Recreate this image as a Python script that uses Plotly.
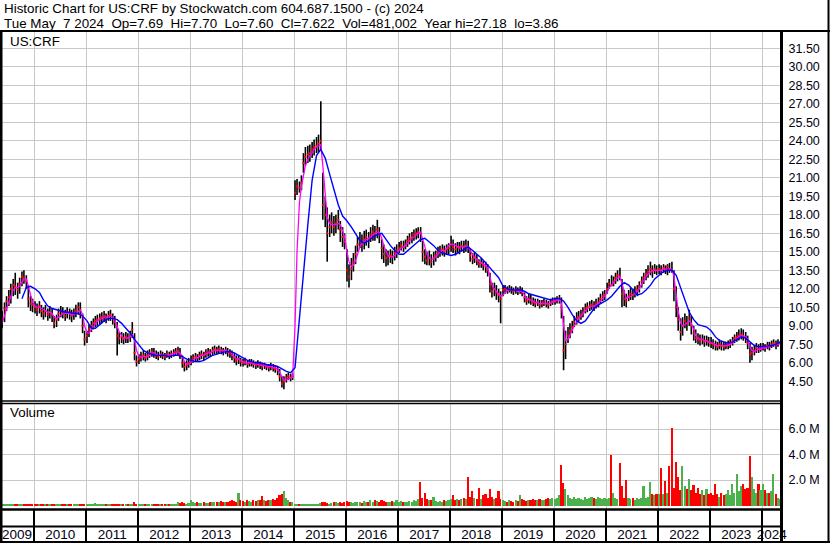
import pandas as pd
import plotly.graph_objects as go

# ---------------- data ----------------
TITLE_1 = "Historic Chart for US:CRF by Stockwatch.com 604.687.1500 - (c) 2024"
TITLE_2 = "Tue May  7 2024  Op=7.69  Hi=7.70  Lo=7.60  Cl=7.622  Vol=481,002  Year hi=27.18  lo=3.86"
SYMBOL = "US:CRF"

# semi-monthly bars, May 2009 .. May 2024
dates = pd.date_range("2009-05-01", periods=361, freq="SMS") + pd.Timedelta(days=5)

close = (
    [8.9,9.6,10.4,11.0,11.3,12.0,12.3,12.2,11.9,12.4,13.0,12.9,12.6,11.2,10.8,10.7]
    + [10.5,10.3,10.6,10.2,10.0,10.2,9.9,10.1,9.9,9.2,9.5,10.0,10.2,10.0,9.8,10.1,10.0,9.8,10.0,10.2,10.5,10.3,9.0,7.9]
    + [8.2,8.7,9.0,9.2,9.4,9.5,9.6,9.7,9.8,9.6,9.8,9.9,9.6,9.3,8.2,8.0,8.1,7.9,8.1,8.0,8.2,8.7,6.8,6.1]
    + [6.3,6.5,6.6,6.4,6.6,6.8,6.9,6.8,6.6,6.5,6.7,6.6,6.5,6.7,6.6,6.7,6.8,6.9,7.0,6.7,6.0,5.7,5.8,6.0]
    + [6.2,6.4,6.5,6.4,6.6,6.7,6.6,6.8,6.9,6.8,7.0,7.1,7.0,7.1,7.0,6.9,7.0,6.9,6.8,6.6,6.4,6.2,6.3,6.1]
    + [6.0,6.1,5.9,6.0,6.0,5.9,5.8,5.9,5.8,5.7,5.8,5.7,5.6,5.7,5.6,5.5,5.4,4.9,4.3,4.5,4.8,4.9,4.8,4.9]
    + [19.8,20.3,20.2,20.6,22.2,22.7,22.9,23.0,23.3,23.5,23.6,23.8,24.0,18.8,18.0,16.5,17.0,17.4,17.0,17.3,17.6,16.8,16.2,15.8]
    + [13.5,13.0,13.6,14.2,14.8,15.6,15.9,15.6,16.0,16.2,16.0,16.4,16.6,16.5,16.8,16.4,15.3,14.8,14.5,14.6,14.7,14.6,14.9,15.1]
    + [15.3,15.5,15.4,15.6,15.9,16.1,16.2,16.4,16.5,16.6,16.5,15.0,14.6,14.3,14.5,14.2,14.5,14.7,15.0,15.1,15.2,15.0,15.2,15.3]
    + [15.6,15.4,15.2,15.4,15.3,15.5,15.4,15.5,15.4,14.7,14.4,14.6,14.3,14.0,14.1,13.9,13.8,13.5,12.4,11.8,12.0,11.7,11.5,11.2]
    + [11.9,12.0,11.9,12.0,11.9,11.8,11.9,11.8,11.9,11.7,11.3,11.0,11.2,11.1,10.9,10.8,10.9,10.7,10.8,10.9,10.8,10.7,10.9,11.0]
    + [11.0,11.1,11.2,10.5,7.0,7.5,8.2,8.6,8.9,9.3,9.6,9.7,9.9,10.1,10.4,10.5,10.6,10.7,10.6,10.8,10.9,11.2,11.4,11.5]
    + [12.0,12.4,12.3,12.6,12.9,13.1,13.0,11.6,11.2,11.0,11.4,11.6,11.5,11.7,11.9,12.2,12.6,12.9,13.2,13.4,13.6,13.4,13.6,13.5]
    + [13.6,13.5,13.7,13.6,13.8,13.6,13.5,12.0,10.5,9.5,8.5,9.0,9.4,9.2,9.6,9.0,8.4,8.0,7.9,7.8,7.9,7.7,7.8,7.7]
    + [7.6,7.5,7.4,7.3,7.5,7.4,7.3,7.4,7.5,7.6,7.8,8.0,8.1,8.2,8.3,8.1,8.0,7.6,6.7,6.8,7.0,7.2,7.1,7.2]
    + [7.3,7.2,7.4,7.3,7.5,7.6,7.4,7.6,7.622]
)

high = (
    [9.7,10.2,10.9,11.4,11.9,12.4,12.8,13.3,12.5,12.9,13.4,13.5,13.1,12.3,11.4,11.2]
    + [11.0,10.8,11.0,10.7,10.5,10.7,10.4,10.6,10.4,9.8,9.9,10.4,10.6,10.5,10.3,10.5,10.4,10.3,10.4,10.7,10.9,10.9,10.0,8.6]
    + [8.6,9.1,9.4,9.6,9.8,9.9,10.0,10.1,10.2,10.0,10.2,10.3,10.0,9.8,9.3,8.5,8.5,8.4,8.5,8.4,8.6,9.3,8.4,6.6]
    + [6.7,6.9,7.0,6.8,7.0,7.1,7.2,7.2,7.0,6.9,7.0,6.9,6.8,7.0,6.9,7.0,7.1,7.2,7.3,7.2,6.6,6.1,6.2,6.4]
    + [6.6,6.7,6.8,6.7,6.9,7.0,6.9,7.1,7.2,7.1,7.3,7.4,7.3,7.4,7.3,7.2,7.3,7.2,7.1,7.0,6.8,6.6,6.6,6.4]
    + [6.3,6.4,6.2,6.3,6.3,6.2,6.1,6.2,6.1,6.0,6.0,5.9,5.9,6.0,5.9,5.8,5.7,5.5,4.9,4.9,5.1,5.2,5.1,5.2]
    + [20.8,20.9,20.7,21.2,23.0,23.5,23.6,23.7,23.9,24.1,24.3,24.5,27.2,21.4,19.5,18.6,18.0,18.2,17.9,18.0,18.4,17.5,17.0,16.5]
    + [15.2,14.0,14.5,14.9,15.5,16.2,16.6,16.4,16.7,16.8,16.6,17.0,17.2,17.1,17.6,17.0,16.0,15.6,15.2,15.1,15.2,15.1,15.4,15.6]
    + [15.8,15.9,15.9,16.0,16.3,16.5,16.6,16.8,16.9,17.0,17.0,15.9,15.2,15.0,15.1,14.8,15.0,15.1,15.4,15.5,15.6,15.5,15.6,15.7]
    + [16.3,16.0,15.7,15.8,15.8,15.9,15.9,16.0,15.9,15.3,14.9,15.0,14.8,14.4,14.5,14.3,14.2,14.0,13.3,12.5,12.5,12.3,12.0,11.8]
    + [12.3,12.3,12.2,12.3,12.2,12.1,12.2,12.1,12.2,12.1,11.7,11.4,11.6,11.5,11.3,11.2,11.2,11.1,11.1,11.2,11.1,11.0,11.2,11.3]
    + [11.3,11.4,11.5,11.3,9.8,8.6,8.9,9.2,9.4,9.8,10.1,10.2,10.3,10.5,10.8,10.9,11.0,11.1,11.0,11.2,11.3,11.6,11.8,11.9]
    + [12.5,12.8,13.1,13.0,13.3,13.5,13.7,12.8,11.9,11.6,11.9,12.1,12.0,12.2,12.3,12.6,13.0,13.3,13.6,13.9,14.2,13.9,14.0,13.9]
    + [14.0,13.9,14.0,13.9,14.0,14.1,14.2,13.5,12.2,10.5,9.6,9.7,10.0,9.8,10.3,9.8,9.0,8.7,8.4,8.3,8.3,8.2,8.2,8.1]
    + [8.1,7.9,7.8,7.7,7.9,7.8,7.7,7.7,7.8,7.9,8.1,8.3,8.5,8.7,8.8,8.7,8.5,8.2,7.6,7.3,7.4,7.6,7.5,7.6]
    + [7.6,7.5,7.7,7.7,7.8,7.9,7.8,7.9,7.70]
)

low = (
    [8.3,8.8,9.3,10.2,10.6,10.8,11.4,11.5,11.2,11.6,12.2,12.4,12.0,10.5,10.2,10.1]
    + [10.0,9.8,10.0,9.7,9.5,9.7,9.4,9.6,9.3,8.8,8.9,9.4,9.7,9.6,9.4,9.6,9.5,9.3,9.5,9.7,9.9,9.6,8.4,7.4]
    + [7.6,8.1,8.5,8.7,8.9,9.0,9.1,9.2,9.3,9.2,9.4,9.4,9.1,8.8,6.6,7.5,7.6,7.5,7.6,7.6,7.7,8.0,6.2,5.7]
    + [5.9,6.1,6.2,6.1,6.2,6.4,6.5,6.4,6.3,6.2,6.4,6.3,6.2,6.4,6.3,6.4,6.5,6.6,6.6,6.3,5.6,5.3,5.4,5.6]
    + [5.8,6.0,6.1,6.1,6.2,6.3,6.2,6.4,6.5,6.5,6.6,6.7,6.7,6.8,6.7,6.6,6.7,6.5,6.4,6.2,6.0,5.8,5.9,5.7]
    + [5.7,5.8,5.6,5.7,5.7,5.6,5.5,5.6,5.5,5.4,5.5,5.4,5.3,5.4,5.3,5.2,5.0,4.5,4.0,3.86,4.4,4.6,4.5,4.6]
    + [19.2,19.6,19.8,20.0,21.4,22.0,22.2,22.3,22.6,22.8,23.0,23.1,23.3,17.6,17.0,14.2,16.2,16.5,16.3,16.5,16.8,15.8,15.4,15.2]
    + [12.6,12.1,12.7,13.4,14.0,15.0,15.3,15.0,15.2,15.5,15.3,15.8,15.9,15.9,16.1,15.7,14.4,14.1,13.8,13.9,14.1,14.0,14.3,14.5]
    + [14.9,15.1,15.0,15.2,15.4,15.6,15.7,15.9,16.0,16.1,15.8,14.2,14.0,13.9,13.9,13.7,13.9,14.2,14.5,14.6,14.7,14.6,14.8,14.8]
    + [15.0,14.9,14.7,14.9,14.8,15.0,14.9,15.0,14.9,14.2,14.0,14.1,13.9,13.7,13.7,13.5,13.3,13.0,11.7,11.3,11.4,11.1,10.9,9.2]
    + [11.4,11.6,11.6,11.7,11.6,11.5,11.6,11.5,11.6,11.4,10.9,10.7,10.8,10.7,10.6,10.5,10.6,10.4,10.5,10.6,10.5,10.4,10.6,10.7]
    + [10.7,10.8,10.8,9.6,5.4,6.3,7.6,8.0,8.4,8.9,9.1,9.3,9.5,9.7,10.0,10.1,10.2,10.3,10.2,10.4,10.5,10.8,11.0,11.1]
    + [11.6,12.0,12.2,12.2,12.4,12.6,12.7,10.5,10.6,10.5,11.0,11.1,11.1,11.3,11.4,11.7,12.1,12.4,12.7,12.9,13.1,12.9,13.2,13.1]
    + [13.2,13.1,13.3,13.2,13.1,13.3,13.3,11.0,9.7,8.6,7.8,8.2,8.8,8.6,9.0,8.3,7.8,7.6,7.5,7.4,7.5,7.3,7.4,7.3]
    + [7.2,7.1,7.0,7.0,7.1,7.0,7.0,7.1,7.1,7.2,7.4,7.6,7.7,7.8,7.9,7.8,7.6,7.1,6.0,6.2,6.6,6.8,6.8,6.9]
    + [7.0,6.9,7.1,7.0,7.2,7.3,7.1,7.3,7.60]
)

# short moving average (magenta), same dates as the bars
ma_short = (
    [8.8,9.2,9.8,10.4,10.9,11.4,11.9,12.1,12.1,12.2,12.5,12.8,12.8,12.2,11.5,10.9]
    + [10.6,10.5,10.5,10.4,10.3,10.2,10.1,10.1,10.0,9.7,9.6,9.7,9.9,10.0,10.0,10.0,10.0,9.9,9.9,10.0,10.2,10.3,9.9,9.0]
    + [8.4,8.4,8.7,8.9,9.2,9.4,9.5,9.6,9.7,9.7,9.7,9.8,9.7,9.5,9.0,8.5,8.2,8.0,8.0,8.0,8.1,8.3,7.8,7.0]
    + [6.5,6.4,6.5,6.5,6.5,6.6,6.8,6.8,6.7,6.6,6.6,6.6,6.6,6.6,6.6,6.7,6.7,6.8,6.9,6.8,6.5,6.1,5.9,5.9]
    + [6.0,6.2,6.4,6.4,6.5,6.6,6.6,6.7,6.8,6.8,6.9,7.0,7.0,7.0,7.0,7.0,7.0,6.9,6.9,6.7,6.5,6.3,6.3,6.2]
    + [6.1,6.0,6.0,6.0,6.0,5.9,5.9,5.9,5.8,5.8,5.8,5.7,5.7,5.7,5.6,5.6,5.5,5.2,4.8,4.6,4.6,4.7,4.8,4.8]
    + [9.0,15.0,19.0,20.3,21.2,22.0,22.5,22.8,23.0,23.3,23.5,23.6,23.7,22.0,19.5,17.8,17.3,17.2,17.2,17.2,17.3,17.2,16.7,16.2]
    + [15.0,14.2,13.8,13.9,14.3,14.9,15.4,15.7,15.8,16.0,16.1,16.2,16.4,16.5,16.6,16.6,16.1,15.5,15.0,14.7,14.6,14.6,14.7,14.9]
    + [15.1,15.3,15.4,15.5,15.7,15.9,16.1,16.2,16.4,16.5,16.6,16.1,15.4,14.8,14.5,14.4,14.4,14.6,14.8,15.0,15.1,15.1,15.3,15.5]
    + [15.6,15.6,15.5,15.4,15.4,15.4,15.4,15.5,15.4,15.1,14.7,14.5,14.4,14.2,14.1,14.0,13.9,13.7,13.0,12.3,12.0,11.8,11.6,11.4]
    + [11.5,11.7,11.9,11.9,11.9,11.9,11.9,11.8,11.8,11.8,11.5,11.2,11.1,11.1,11.0,10.9,10.9,10.8,10.8,10.8,10.8,10.8,10.8,10.9]
    + [11.0,11.1,11.1,10.8,9.0,7.8,7.9,8.3,8.7,9.0,9.3,9.6,9.8,10.0,10.2,10.4,10.5,10.6,10.6,10.7,10.8,11.0,11.2,11.4]
    + [11.7,12.1,12.3,12.5,12.7,12.9,13.0,12.4,11.6,11.2,11.3,11.4,11.5,11.6,11.8,12.0,12.4,12.7,13.0,13.2,13.4,13.5,13.5,13.5]
    + [13.5,13.5,13.6,13.6,13.6,13.6,13.6,13.0,11.5,10.2,9.2,9.0,9.1,9.2,9.4,9.2,8.7,8.2,8.0,7.9,7.9,7.8,7.8,7.7]
    + [7.6,7.6,7.5,7.4,7.4,7.4,7.4,7.4,7.4,7.5,7.6,7.8,8.0,8.1,8.2,8.2,8.1,7.9,7.3,7.0,6.9,7.0,7.1,7.1]
    + [7.2,7.2,7.3,7.3,7.4,7.5,7.5,7.5,7.6]
)

# long moving average (blue), monthly points
ma_long = (
    [None,None,None,None,None,11.2,12.1,12.2]
    + [12.0,11.7,11.1,10.6,10.4,10.3,10.2,10.1,10.1,10.0,10.0,9.8]
    + [9.4,8.8,8.8,9.1,9.4,9.6,9.6,9.5,9.2,8.8,8.4,7.9]
    + [7.4,7.0,6.8,6.7,6.6,6.6,6.6,6.5,6.6,6.6,6.5,6.3]
    + [6.2,6.1,6.1,6.2,6.4,6.6,6.7,6.8,6.9,6.9,6.8,6.6]
    + [6.4,6.2,6.1,6.0,6.0,5.9,5.8,5.8,5.7,5.5,5.3,5.2]
    + [5.6,9.6,13.5,17.2,20.8,22.8,23.3,22.6,21.3,20.0,18.8,17.9]
    + [17.5,17.0,16.5,15.9,15.7,15.9,16.2,16.4,16.5,16.0,15.5,15.1]
    + [14.8,14.8,15.1,15.4,15.7,16.0,16.1,15.8,15.5,15.1,14.9,14.8]
    + [14.7,14.8,15.0,15.2,15.4,15.1,14.8,14.5,14.1,13.7,13.3,12.9]
    + [12.2,12.0,11.9,11.9,11.9,11.8,11.6,11.5,11.4,11.3,11.2,11.1]
    + [11.2,11.2,11.0,10.5,9.9,9.4,9.2,9.4,9.9,10.4,10.7,10.9]
    + [11.1,11.4,11.8,12.2,12.5,12.3,11.9,11.5,11.6,11.9,12.3,12.8]
    + [13.1,13.4,13.5,13.5,13.1,12.1,11.0,10.1,9.5,9.1,9.0,8.9]
    + [8.6,8.1,7.8,7.7,7.6,7.7,7.9,8.1,8.0,7.7,7.4,7.3]
    + [7.3,7.35,7.4,7.5,7.7]
)

# volume, millions of shares
volume = (
    [0.05,0.04,0.06,0.05,0.04,0.05,0.06,0.05,0.04,0.05,0.06,0.05,0.07,0.12,0.06,0.05]
    + [0.05,0.06,0.08,0.05,0.04,0.05,0.06,0.05,0.04,0.05,0.06,0.05,0.07,0.05,0.04,0.05,0.06,0.05,0.07,0.05,0.06,0.08,0.1,0.07]
    + [0.06,0.05,0.06,0.05,0.2,0.05,0.06,0.05,0.04,0.06,0.05,0.07,0.06,0.08,0.15,0.1,0.07,0.06,0.08,0.07,0.06,0.1,0.25,0.15]
    + [0.12,0.1,0.08,0.1,0.09,0.12,0.1,0.08,0.11,0.09,0.1,0.12,0.1,0.11,0.09,0.12,0.15,0.13,0.3,0.18,0.25,0.2,0.15,0.2]
    + [0.45,0.25,0.2,0.25,0.22,0.2,0.25,0.2,0.22,0.25,0.3,0.28,0.25,0.3,0.35,0.3,0.25,0.3,0.35,0.4,0.35,0.3,0.98,0.4]
    + [0.35,0.3,0.4,0.35,0.3,0.4,0.35,0.45,0.4,0.78,0.4,0.35,0.45,0.4,0.5,0.45,0.6,0.8,0.9,1.1,0.6,0.4,0.3,0.25]
    + [0.15,0.12,0.1,0.12,0.15,0.1,0.12,0.1,0.15,0.12,0.1,0.15,0.2,0.3,0.25,0.2,0.15,0.2,0.25,0.3,0.2,0.25,0.2,0.3]
    + [0.35,0.3,0.25,0.2,0.25,0.3,0.25,0.2,0.35,0.3,0.25,0.4,0.3,0.45,0.35,0.3,0.45,0.35,0.3,0.25,0.3,0.35,0.3,0.4]
    + [0.3,0.35,0.3,0.25,0.3,0.35,0.3,0.4,0.35,0.5,1.87,0.6,1.0,0.5,0.45,0.4,0.7,0.35,0.3,0.35,0.3,0.4,0.35,0.45]
    + [0.5,0.8,0.4,0.5,0.45,0.5,0.6,0.5,2.2,0.7,1.1,0.6,0.5,1.4,0.5,0.8,0.9,0.6,1.3,0.7,0.5,0.6,1.1,0.5]
    + [0.4,0.35,0.3,0.4,0.35,0.3,0.4,0.35,0.8,0.5,0.4,0.35,0.45,0.4,0.5,0.45,0.4,0.5,0.45,0.4,0.5,0.55,0.5,0.6]
    + [0.5,0.6,0.8,3.2,1.8,1.3,0.8,0.6,0.5,0.7,0.5,0.6,0.5,0.45,0.7,0.5,0.55,0.7,0.6,0.5,0.7,0.6,0.5,0.6]
    + [0.5,0.6,3.96,1.0,0.6,0.5,3.3,1.5,0.6,2.0,0.6,0.5,0.55,0.45,0.6,0.5,0.6,1.5,0.6,0.7,1.85,0.9,0.8,0.9]
    + [0.9,2.95,0.9,1.9,1.0,3.1,6.05,1.4,3.4,2.25,1.2,3.1,1.5,1.3,2.1,1.2,1.6,1.0,1.4,0.9,1.2,0.8,1.3,0.9]
    + [1.0,0.8,1.7,0.9,0.7,1.0,0.8,0.9,1.2,0.8,1.7,1.0,2.45,1.1,1.5,1.7,1.3,1.4,3.88,2.2,1.3,1.0,1.7,1.2]
    + [1.7,1.2,1.0,1.0,1.1,2.45,0.9,0.6,0.48]
)

price_ticks = [4.5, 6.0, 7.5, 9.0, 10.5, 12.0, 13.5, 15.0, 16.5, 18.0, 19.5,
               21.0, 22.5, 24.0, 25.5, 27.0, 28.5, 30.0, 31.5]
volume_ticks = [2.0, 4.0, 6.0]
volume_tick_labels = ["2.0 M", "4.0 M", "6.0 M"]
year_labels = ["2009", "2010", "2011", "2012", "2013", "2014", "2015", "2016",
               "2017", "2018", "2019", "2020", "2021", "2022", "2023", "2024"]
year_label_dates = ["2009-09-01", "2010-07-02", "2011-07-02", "2012-07-02", "2013-07-02",
                    "2014-07-02", "2015-07-02", "2016-07-02", "2017-07-02", "2018-07-02",
                    "2019-07-02", "2020-07-02", "2021-07-02", "2022-07-02", "2023-07-02",
                    "2024-03-07"]
year_starts = [f"{y}-01-01" for y in range(2010, 2025)]

assert len(close) == len(high) == len(low) == len(ma_short) == len(volume) == len(dates), \
    (len(close), len(high), len(low), len(ma_short), len(volume), len(dates))
assert len(ma_long) == len(dates[::2]), (len(ma_long), len(dates[::2]))

# ---------------- figure ----------------
W, H = 830, 543
PLOT_W = 782
FONT = "Arial, 'Liberation Sans', sans-serif"
GRID = "#c8c8c8"
X_RANGE = ["2009-05-05", "2024-05-18"]


def px(x):
    return x / PLOT_W


def py(y):
    return 1 - y / H


fig = go.Figure()

# high-low bars
hl_x, hl_y = [], []
for d, h, l in zip(dates, high, low):
    hl_x += [d, d, None]
    hl_y += [l, h, None]
fig.add_trace(go.Scatter(x=hl_x, y=hl_y, mode="lines",
                         line=dict(color="black", width=1.6),
                         xaxis="x", yaxis="y", hoverinfo="skip"))
# close ticks
fig.add_trace(go.Scatter(x=dates, y=close, mode="markers",
                         marker=dict(symbol="square", size=2, color="#ff0000",
                                     line=dict(width=0)),
                         xaxis="x", yaxis="y"))
# moving averages
fig.add_trace(go.Scatter(x=dates, y=ma_short, mode="lines",
                         line=dict(color="#ff00ff", width=1.3),
                         xaxis="x", yaxis="y"))
fig.add_trace(go.Scatter(x=dates[::2], y=ma_long, mode="lines",
                         line=dict(color="#0000ff", width=1.4),
                         xaxis="x", yaxis="y", connectgaps=False))

# volume bars
vol_colors = ["#4cb04c"] + ["#4cb04c" if close[i] >= close[i - 1] else "#ff0000"
                            for i in range(1, len(close))]
fig.add_trace(go.Bar(x=dates, y=volume, marker=dict(color=vol_colors, line=dict(width=0)),
                     width=12 * 86400000, xaxis="x2", yaxis="y2"))

axis_font = dict(family=FONT, size=12.5, color="#000010")

fig.update_layout(
    template="none",
    width=W, height=H, autosize=False,
    margin=dict(l=0, r=W - PLOT_W, t=0, b=0, pad=0),
    paper_bgcolor="white", plot_bgcolor="white",
    showlegend=False, bargap=0,
    font=dict(family=FONT, size=12, color="black"),
    xaxis=dict(domain=[0, 1], anchor="y", type="date", range=X_RANGE, automargin=False,
               tickmode="array", tickvals=year_starts, showticklabels=False,
               ticks="", showgrid=True, gridcolor=GRID, gridwidth=1,
               zeroline=False, showline=False),
    yaxis=dict(domain=[py(401), py(31)], anchor="x", side="right", automargin=False,
               range=[2.903, 32.903], tickmode="array", tickvals=price_ticks,
               tickformat=".2f", ticks="outside", ticklen=3, tickcolor="rgba(0,0,0,0)",
               showgrid=True, gridcolor=GRID, gridwidth=1,
               zeroline=False, showline=False, tickfont=axis_font),
    xaxis2=dict(domain=[0, 1], anchor="y2", type="date", range=X_RANGE, automargin=False,
                tickmode="array", tickvals=year_label_dates, ticktext=year_labels,
                ticks="outside", ticklen=13, tickcolor="rgba(0,0,0,0)",
                showgrid=False, zeroline=False, showline=False,
                tickfont=dict(family=FONT, size=13.5, color="#000010"),
                minor=dict(tickmode="array", tickvals=year_starts, ticks="outside",
                           ticklen=33, tickcolor="black", tickwidth=1.5,
                           showgrid=True, gridcolor=GRID, gridwidth=1)),
    yaxis2=dict(domain=[py(509), py(403)], anchor="x2", side="right", automargin=False,
                range=[-0.2745, 8.039], tickmode="array", tickvals=volume_ticks,
                ticktext=volume_tick_labels, ticks="outside", ticklen=3,
                tickcolor="rgba(0,0,0,0)", showgrid=True, gridcolor=GRID,
                gridwidth=1, zeroline=False, showline=False, tickfont=axis_font),
)

# frame lines
lines = [
    (0, 31, W, 31, 2),          # header separator
    (1, 31, 1, H, 3),           # left border
    (781.5, 31, 781.5, H, 3),   # right axis line
    (828.5, 0, 828.5, H, 2),    # outer right frame
    (0, 401, PLOT_W, 401, 1.5), # price panel bottom
    (0, 403.5, PLOT_W, 403.5, 1.5),  # volume panel top
    (0, 509.5, PLOT_W, 509.5, 2.5),  # volume panel bottom
    (0, 526.5, PLOT_W, 526.5, 2),    # date band divider
    (0, 542, W, 542, 2),             # bottom frame
]
for x0, y0, x1, y1, w in lines:
    fig.add_shape(type="line", xref="paper", yref="paper",
                  x0=px(x0), y0=py(y0), x1=px(x1), y1=py(y1),
                  line=dict(color="black", width=w), layer="above")

# texts
title_font = dict(family=FONT, size=13.4, color="black")
fig.add_annotation(text=TITLE_1, xref="paper", yref="paper", x=px(2), y=py(8.5),
                   xanchor="left", yanchor="middle", showarrow=False, font=title_font)
fig.add_annotation(text=TITLE_2, xref="paper", yref="paper", x=px(2), y=py(23.5),
                   xanchor="left", yanchor="middle", showarrow=False, font=title_font)
fig.add_annotation(text=SYMBOL, xref="paper", yref="paper", x=px(8), y=py(41.5),
                   xanchor="left", yanchor="middle", showarrow=False, font=title_font)
fig.add_annotation(text="Volume", xref="paper", yref="paper", x=px(8), y=py(413),
                   xanchor="left", yanchor="middle", showarrow=False, font=title_font)

fig.write_html("out.html", config={"displayModeBar": False},
               post_script="document.body.style.margin='0';document.body.style.padding='0';")
